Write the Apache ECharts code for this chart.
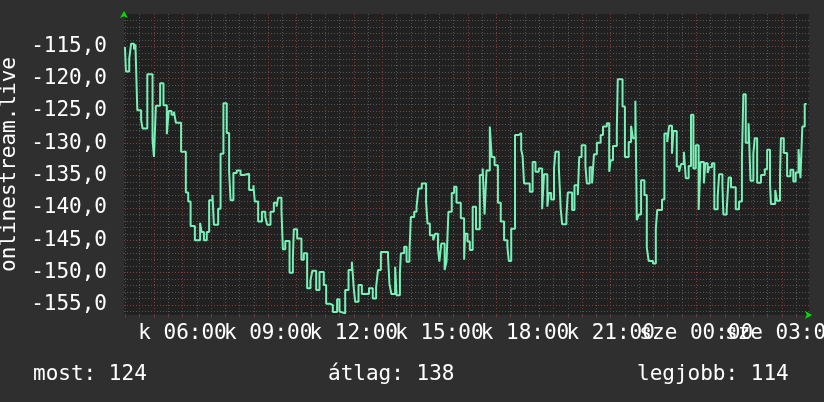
<!DOCTYPE html>
<html><head><meta charset="utf-8">
<script src="https://cdn.jsdelivr.net/npm/echarts@6/dist/echarts.min.js"></script>
<style>html,body{margin:0;padding:0;background:#2f2f2f}#c{width:824px;height:402px}</style>
</head><body><div id="c"></div>
<script>
const seriesName = 'onlinestream.live';
// minutes since Tuesday 00:00
const timeMinutes = [239,241,248,252,258,261,265,273,276,286,297,300,304,313,320,327,331,337,342,346,357,367,372,377,386,397,400,405,411,416,423,426,435,440,446,453,458,461,467,474,482,489,500,509,512,519,527,534,538,545,552,558,561,568,571,576,585,592,594,601,610,615,622,629,633,641,648,657,662,669,676,685,690,694,702,709,716,720,723,730,737,752,760,767,771,777,792,795,799,807,810,817,819,826,831,837,840,847,852,856,863,872,875,880,887,891,897,900,904,911,915,919,926,931,936,945,952,954,959,964,970,977,985,991,995,999,1006,1010,1016,1023,1029,1036,1043,1046,1051,1059,1067,1072,1075,1078,1090,1096,1102,1109,1116,1120,1127,1130,1135,1141,1144,1151,1155,1158,1167,1170,1179,1184,1191,1194,1199,1207,1210,1216,1221,1225,1231,1239,1244,1252,1257,1260,1265,1273,1275,1285,1290,1298,1303,1307,1312,1315,1319,1324,1331,1336,1340,1349,1355,1358,1368,1373,1379,1383,1389,1392,1399,1404,1408,1414,1418,1424,1429,1434,1439,1445,1449,1456,1459,1464,1467,1473,1478,1485,1488,1495,1497,1504,1508,1513,1523,1530,1536,1539,1544,1550,1554,1560,1563,1568,1576,1584,1589,1595,1597,1606,1610,1616,1618,1624,1631,1638,1644,1649,1655,1659,1663,1668,1672];
const values = [-115.1,-118.9,-116.9,-114.6,-115.5,-114.7,-124.9,-126.4,-127.7,-119.3,-129.5,-132.1,-124.2,-120.7,-124.1,-128.6,-125,-125.6,-125.1,-126.8,-131.3,-137.6,-139,-142.8,-145,-142.3,-143.7,-145,-143.7,-138.8,-138,-142.6,-140.1,-131.6,-123.8,-128.4,-134.4,-138.8,-134.6,-134.2,-134.9,-134.7,-137.2,-136.5,-139,-142.1,-140.6,-141.4,-142.6,-140.6,-139.2,-139.8,-138.4,-140.3,-146.4,-145.1,-150,-147.8,-143.3,-144.7,-148,-147,-152.4,-151.2,-149.7,-152.7,-149.9,-151.9,-154.8,-155,-156.1,-154.1,-156,-156.3,-152.7,-149.6,-148.3,-152.4,-154.5,-151.9,-153.3,-152.4,-154,-152.2,-149.6,-146.8,-147.5,-151.7,-153.3,-149.1,-153.5,-150.1,-147,-146,-148.3,-147,-141.4,-140.6,-139.8,-137,-136.2,-139,-142.4,-144.2,-145,-144,-146.3,-148.3,-145.5,-149.6,-148.3,-140.6,-137.7,-136.7,-139.2,-141.6,-148,-144,-145.2,-146.5,-139.8,-143.3,-134.9,-133.9,-141,-134.2,-127.4,-132.1,-133.4,-139.2,-142.1,-145,-146,-148.2,-143.2,-128.7,-128.4,-131,-132,-136.2,-137.5,-132.9,-134.4,-133.9,-140.2,-134.8,-139.8,-137.7,-138.7,-133.9,-131.3,-133.6,-140.1,-142.5,-141.4,-137.6,-140.3,-136.5,-138,-132.1,-130.3,-133.5,-136.2,-133.7,-136.2,-131.7,-129.9,-128.7,-127.4,-126.9,-134.4,-132.6,-130.4,-127.7,-120.1,-124.3,-132.1,-129.8,-127.3,-129.2,-123.4,-141.9,-141,-135.7,-138,-146.1,-148.2,-148.6,-143.2,-140.3,-138.7,-128.5,-129.8,-127.3,-131.6,-128.1,-133.6,-134.4,-133.2,-131.3,-135.4,-133.5,-125.6,-133.9,-130.3,-140.3,-132.9,-136.2,-133.1,-134.6,-133.7,-133.1,-140.2,-138.3,-134.8,-136.5,-141,-140.3,-135.3,-136.8,-140.2,-139,-132.3,-122.4,-129.9,-126.9,-135.8,-131.6,-129.2,-136.1,-134.9,-134,-131,-136.2,-139.4,-137.2,-138.9,-134.9,-129.2,-131.5,-135.1,-134.1,-135.9,-134.5,-130.9,-135.4,-127.4,-123.9,-123.9];
const yLabelValues = [-155,-150,-145,-140,-135,-130,-125,-120,-115];
const xLabelMinutes = [360,540,720,900,1080,1260,1440,1620];
const xLabelTexts = ['k 06:00','k 09:00','k 12:00','k 15:00','k 18:00','k 21:00','sze 00:00','sze 03:00'];
const summaryLabels = ['most','átlag','legjobb'];
const summaryValues = [124,138,114];
const xRange = [237, 1677];
const yRange = [-156.55, -110];

const FONT = "'DejaVu Sans Mono', monospace";
const GRAY = '#545454', RED = '#7e3c3c';

const yMinor = [];
for (let v = Math.ceil(yRange[0]); v < yRange[1]; v++) yMinor.push(v);
const yColors = yMinor.map(v => (v % 5 === 0 ? RED : GRAY));
const xMinor = [];
for (let m = Math.ceil(xRange[0] / 30) * 30; m < xRange[1]; m += 30) xMinor.push(m);
const xColors = xMinor.map(m => (m % 60 === 0 ? RED : GRAY));
// labels split over two overlaid axes so neighbouring labels are not auto-hidden
const xLabelsA = xLabelMinutes.filter((_, i) => i % 2 === 0);
const xLabelsB = xLabelMinutes.filter((_, i) => i % 2 === 1);
const fmtX = v => xLabelTexts[xLabelMinutes.indexOf(v)] || '';
const xLabelStyle = {color: '#ffffff', fontFamily: FONT, fontSize: 21, margin: 8, showMinLabel: true, showMaxLabel: true, hideOverlap: false, formatter: fmtX};

const chart = echarts.init(document.getElementById('c'), null, {renderer: 'canvas'});
chart.setOption({
  backgroundColor: '#2f2f2f',
  animation: false,
  grid: {left: 124, top: 14, width: 685, height: 301, show: true, backgroundColor: '#212121', borderWidth: 0, outerBoundsMode: 'none', containLabel: false},
  title: summaryLabels.map((l, i) => ({
    text: l + ': ' + summaryValues[i],
    left: [33, 328, 637][i], top: 364, padding: 0,
    textStyle: {color: '#ffffff', fontFamily: FONT, fontSize: 21, fontWeight: 'normal'}
  })),
  xAxis: [{
    type: 'value', min: xRange[0], max: xRange[1],
    axisLine: {show: true, onZero: false, symbol: ['none', 'arrow'], symbolSize: [6, 7], symbolOffset: [0, 3], lineStyle: {color: '#00dd00', width: 0}},
    axisTick: {show: true, length: 3, customValues: xMinor, lineStyle: {color: '#5a3a3a'}},
    axisLabel: Object.assign({customValues: xLabelsA}, xLabelStyle),
    splitLine: {show: true, lineStyle: {color: xColors, width: 1, type: [1, 2]}}
  }, {
    type: 'value', min: xRange[0], max: xRange[1], position: 'bottom',
    axisLine: {show: false}, axisTick: {show: false}, splitLine: {show: false},
    axisLabel: Object.assign({customValues: xLabelsB}, xLabelStyle)
  }],
  yAxis: {
    type: 'value', min: yRange[0], max: yRange[1],
    name: seriesName, nameLocation: 'middle', nameRotate: 90, nameGap: 97,
    nameTextStyle: {color: '#ffffff', fontFamily: FONT, fontSize: 21},
    axisLine: {show: true, onZero: false, symbol: ['none', 'arrow'], symbolSize: [6, 7], symbolOffset: [0, 3], lineStyle: {color: '#00dd00', width: 0}},
    axisTick: {show: false, customValues: yMinor},
    axisLabel: {
      customValues: yLabelValues, color: '#ffffff', fontFamily: FONT, fontSize: 21, margin: 17,
      showMinLabel: true, showMaxLabel: true,
      formatter: v => v.toFixed(1).replace('.', ',')
    },
    splitLine: {show: true, lineStyle: {color: yColors, width: 1, type: [1, 2]}}
  },
  series: [{
    name: seriesName, type: 'line', step: 'end', showSymbol: false,
    data: timeMinutes.map((t, i) => [t, values[i]]),
    lineStyle: {color: '#78f0b8', width: 2}
  }]
});
</script></body></html>
